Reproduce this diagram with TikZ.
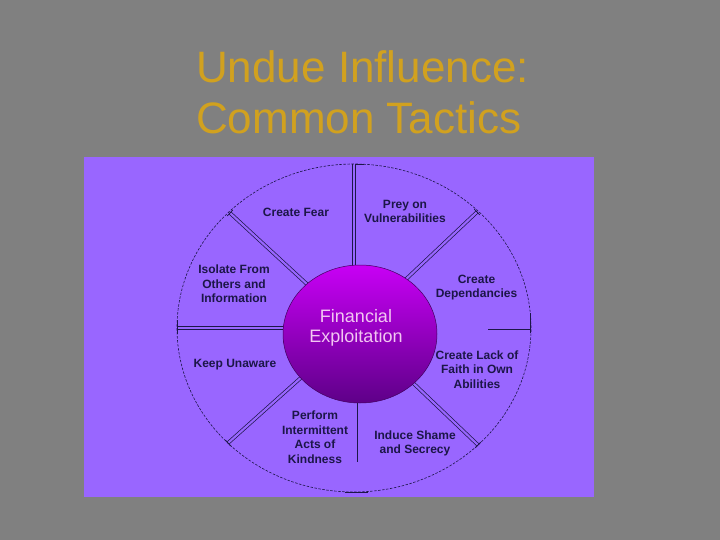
\documentclass[tikz,border=0pt]{standalone}
\usepackage{fontspec}
\setmainfont{Liberation Sans}
\usetikzlibrary{shapes.geometric,calc}
\definecolor{bggray}{HTML}{808080}
\definecolor{panel}{HTML}{9966FF}
\definecolor{titlegold}{HTML}{D1A11F}
\definecolor{ink}{HTML}{1C1648}
\definecolor{hubtop}{HTML}{C800F5}
\definecolor{hubbot}{HTML}{5E0088}
\definecolor{hubtext}{HTML}{F2C6F2}
\begin{document}
\begin{tikzpicture}[x=1pt,y=-1pt,
  title/.style={anchor=base west, text=titlegold, font=\fontsize{44}{51}\selectfont, inner sep=0},
  lbl/.style={align=center, text=ink, font=\fontsize{12}{14.5}\selectfont\bfseries, inner sep=0},
  spoke/.style={draw=ink, line width=0.7pt, double=panel, double distance=2.2pt},
  single/.style={draw=ink, line width=0.8pt},
  rim/.style={draw=ink, line width=0.6pt, dash pattern=on 2.5pt off 1.5pt},
]
\fill[bggray] (0,0) rectangle (720,540);
\useasboundingbox (0,0) rectangle (720,540);
\fill[panel] (84,157) rectangle (594,497);
\node[title] (t1) at (196,83) {Undue Influence:};
\node[title] (t2) at (196,134) {Common Tactics};
% rim
\draw[rim] (354,328) ellipse [x radius=177pt, y radius=164pt];
% spoke end points
\coordinate (nI) at (353.5,270);  \coordinate (nO) at (353.5,164);
\coordinate (neI) at (403,282);   \coordinate (neO) at (477,212);
\coordinate (eI) at (488,329);    \coordinate (eO) at (530,329);
\coordinate (seI) at (411,381);   \coordinate (seO) at (478,445);
\coordinate (sI) at (357,400);    \coordinate (sO) at (357,462);
\coordinate (swI) at (304,375);   \coordinate (swO) at (228,443);
\coordinate (wI) at (288,327.5);  \coordinate (wO) at (177,327.5);
\coordinate (nwI) at (309,286);   \coordinate (nwO) at (230,213);
% spokes
\draw[single] ([xshift=-1.5pt]nI) -- ([xshift=-1.5pt]nO);
\draw[single] ([xshift=1.5pt]nI) -- ([xshift=1.5pt]nO);
\draw[spoke] (neI) -- (neO);
\draw[single] (eI) -- (eO);
\draw[spoke] (seI) -- (seO);
\draw[single] (sI) -- (sO);
\draw[spoke] (swI) -- (swO);
\draw[single] ([yshift=-1.5pt]wI) -- ([yshift=-1.5pt]wO);
\draw[single] ([yshift=1.5pt]wI) -- ([yshift=1.5pt]wO);
\draw[spoke] (nwI) -- (nwO);
% rim ticks
\draw[single] (355,164) -- (364,164);
\draw[single] (530,313) -- (530,333);
\draw[single] (177,320) -- (177,334);
\draw[single] (345,492) -- (368,492);
\foreach \o/\i in {neO/neI, seO/seI, swO/swI, nwO/nwI}{
  \draw[single] ($(\o)!4pt!90:(\i)$) -- ($(\o)!4pt!-90:(\i)$);
}
% hub
\node[ellipse, minimum width=154pt, minimum height=138pt, inner sep=0,
      top color=hubtop, bottom color=hubbot, draw=hubbot!70!black, line width=0.5pt] (hub) at (360,334) {};
\node[text=hubtext, font=\fontsize{18}{20}\selectfont, align=center, inner sep=0] (ht) at (356,328) {Financial\\Exploitation};
% labels
\node[lbl] (fear) at (296,212) {Create Fear};
\node[lbl] (prey) at (405,211.5) {Prey on\\Vulnerabilities};
\node[lbl] (dep) at (476.5,287.5) {Create\\Dependancies};
\node[lbl] (iso) at (234,284) {Isolate From\\Others and\\Information};
\node[lbl] (unaware) at (235,365) {Keep Unaware};
\node[lbl] (kind) at (315,437) {Perform\\Intermittent\\Acts of\\Kindness};
\node[lbl] (shame) at (415,443.5) {Induce Shame\\and Secrecy};
\node[lbl] (faith) at (477,369.5) {Create Lack of\\Faith in Own\\Abilities};
\end{tikzpicture}
\end{document}
